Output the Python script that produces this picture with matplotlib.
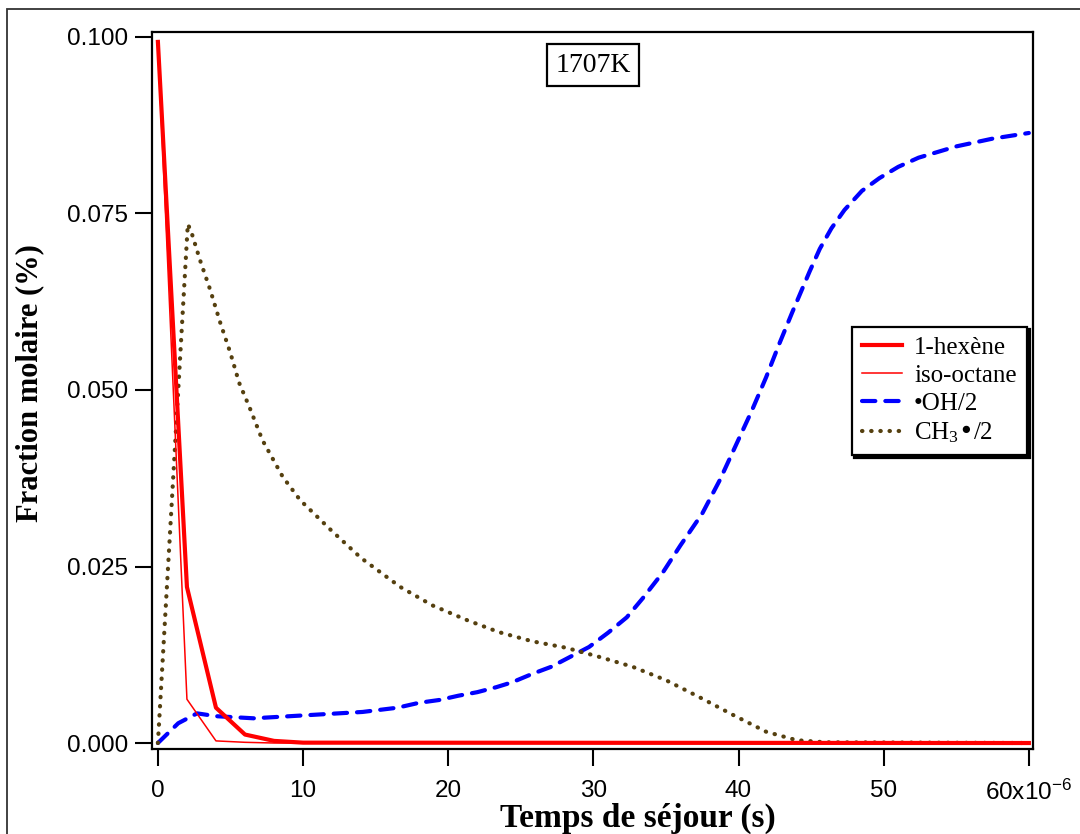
import numpy as np
import matplotlib
matplotlib.use("Agg")
import matplotlib.pyplot as plt
from matplotlib.patches import Rectangle

plt.rcParams["font.family"] = "Liberation Sans"
plt.rcParams["mathtext.default"] = "regular"

# data (time in 1e-6 s)
t_hex = [0, 2, 4, 6, 8, 10, 60]
hexene = [0.0993, 0.0221, 0.0050, 0.0012, 0.0003, 0.00005, 0.0]

t_iso = [0, 2, 4, 6, 8, 60]
iso = [0.0993, 0.0062, 0.0003, 0.0001, 0.0, 0.0]

t_oh = [0, 1.4, 2.7, 4, 6.6, 9.1, 11.6, 14.1, 16.5, 18.0, 19.4, 20.7, 22.0,
        23.3, 24.4, 25.8, 27.1, 28.4, 29.7, 31.0, 32.3, 33.4, 34.8, 36.0,
        37.5, 38.7, 39.8, 40.9, 41.9, 42.8, 43.7, 44.9, 45.6, 46.4, 47.3,
        48.5, 49.7, 51.0, 52.4, 55.0, 57.5, 60.0]
oh = [0, 0.0028, 0.0042, 0.0038, 0.0035, 0.0038, 0.0041, 0.0044, 0.0050,
      0.0057, 0.0061, 0.0067, 0.0072, 0.0079, 0.0086, 0.0098, 0.0108, 0.0122,
      0.0136, 0.0156, 0.0178, 0.0205, 0.0242, 0.0280, 0.0325, 0.0372, 0.0421,
      0.0470, 0.0518, 0.0565, 0.0610, 0.0668, 0.0700, 0.0729, 0.0755, 0.0782,
      0.0800, 0.0816, 0.0829, 0.0845, 0.0856, 0.0864]

t_ch3 = [0, 2.06, 2.3, 2.9, 3.6, 4.3, 5.0, 5.6, 6.3, 7.2, 8.6, 9.8, 12, 14,
         16.7, 18.9, 21.3, 23.5, 25.8, 28.1, 30.4, 32.7, 35.0, 37.3, 39.6,
         41.9, 44.0, 46.0, 60]
ch3 = [0, 0.0735, 0.0724, 0.0684, 0.0642, 0.0595, 0.0552, 0.0510, 0.0476,
       0.0429, 0.0377, 0.0344, 0.0300, 0.0262, 0.0221, 0.0195, 0.0174, 0.0157,
       0.0144, 0.0135, 0.0122, 0.0108, 0.0089, 0.0065, 0.0040, 0.0016, 0.0004,
       0.0001, 0.0]

x_ticks = [0, 10, 20, 30, 40, 50, 60]
x_ticklabels = ["0", "10", "20", "30", "40", "50", "60x10$^{-6}$"]
y_ticks = [0.0, 0.025, 0.05, 0.075, 0.1]

fig = plt.figure(figsize=(10.8, 8.34), dpi=100)
ax = fig.add_axes([0.1407, 0.1019, 0.8157, 0.8597])

# outer frame around the whole picture
fig.patches.append(Rectangle((7 / 1080, -0.1), 1.2, 1.1 - 9 / 834,
                             transform=fig.transFigure, fill=False,
                             edgecolor="#333333", linewidth=1.3))

ax.plot(t_hex, hexene, color="#ff0000", lw=3.0, label="1-hexène", zorder=4)
ax.plot(t_iso, iso, color="#ff0000", lw=1.1, label="iso-octane", zorder=4)
ax.plot(t_oh, oh, color="#0000ff", lw=3.0, dashes=[3.2, 2.4],
        dash_capstyle="round", label="•OH/2", zorder=3)
ax.plot(t_ch3, ch3, color="#55400f", lw=3.0, dashes=[0.1, 2.1],
        dash_capstyle="round", label="CH$_3$•/2", zorder=3)

ax.set_xlim(-0.41, 60.28)
ax.set_ylim(-0.00085, 0.1007)
ax.set_xticks(x_ticks)
ax.set_xticklabels(x_ticklabels)
ax.set_yticks(y_ticks)
ax.set_yticklabels([f"{v:.3f}" for v in y_ticks])

for s in ax.spines.values():
    s.set_linewidth(1.6)
ax.tick_params(axis="both", direction="out", length=12, width=1.5,
               labelsize=17.5)
ax.tick_params(axis="x", pad=10)
ax.tick_params(axis="y", pad=5)

ax.set_xlabel("Temps de séjour (s)", family="Liberation Serif",
              fontweight="bold", fontsize=24)
ax.xaxis.set_label_coords(0.552, -0.075)
ax.set_ylabel("Fraction molaire (%)", family="Liberation Serif",
              fontweight="bold", fontsize=22)
ax.yaxis.set_label_coords(-0.122, 0.51)

ax.text(0.5006, 0.954, "1707K", transform=ax.transAxes, ha="center",
        va="center", family="Liberation Serif", fontsize=20,
        bbox=dict(boxstyle="square,pad=0.3", facecolor="white",
                  edgecolor="black", linewidth=1.6))

leg = ax.legend(loc="upper right", bbox_to_anchor=(0.993, 0.589),
                borderaxespad=0, fancybox=False, frameon=True,
                prop={"family": "Liberation Serif", "size": 18},
                handlelength=1.6, handletextpad=0.5, labelspacing=0.22,
                borderpad=0.4,
                shadow={"facecolor": "black", "edgecolor": "black",
                        "alpha": 1})
leg.get_frame().set_edgecolor("black")
leg.get_frame().set_linewidth(1.6)
leg.get_frame().set_alpha(1)

fig.savefig("out.png", dpi=100)
